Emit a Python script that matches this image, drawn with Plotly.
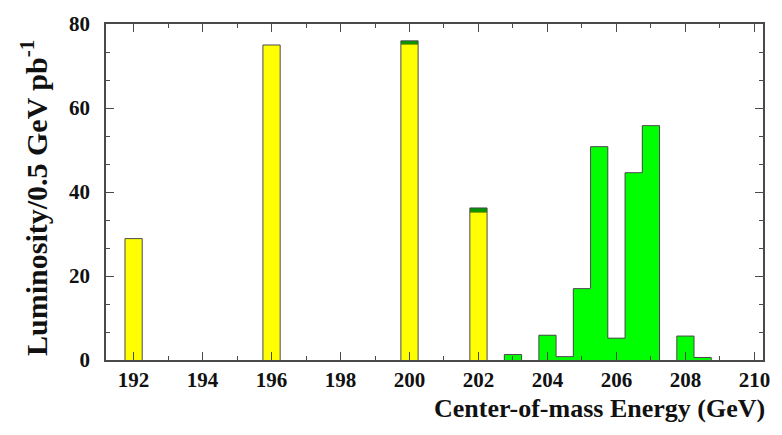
import plotly.graph_objects as go

# Data (bin centres in GeV, 0.5 GeV bins)
yellow_x = [192, 196, 200, 202]
yellow_y = [28.9, 75.0, 75.2, 35.2]

green_x = [200, 202, 203, 204, 204.5, 205, 205.5, 206, 206.5, 207, 208, 208.5]
green_y = [0.8, 1.0, 1.3, 5.9, 0.8, 17.0, 50.8, 5.2, 44.6, 55.8, 5.7, 0.6]

bin_width = 0.5
x_ticks = [192, 194, 196, 198, 200, 202, 204, 206, 208, 210]
y_ticks = [0, 20, 40, 60, 80]

YELLOW = "#ffff00"
GREEN = "#00ff00"
DARK_GREEN = "#009a00"
EDGE = "#4a4a4a"
FONT = "Liberation Serif"

# colours: green stacked on top of yellow bins drawn darker
yset = set(yellow_x)
green_colors = [DARK_GREEN if x in yset else GREEN for x in green_x]

# total heights per bin for the histogram outline
totals = {}
for x, v in zip(yellow_x, yellow_y):
    totals[x] = totals.get(x, 0) + v
for x, v in zip(green_x, green_y):
    totals[x] = totals.get(x, 0) + v

fig = go.Figure()
fig.add_trace(go.Bar(x=yellow_x, y=yellow_y, width=[bin_width] * len(yellow_x),
                     marker=dict(color=YELLOW, line=dict(width=0)), showlegend=False))
fig.add_trace(go.Bar(x=green_x, y=green_y, width=[bin_width] * len(green_x),
                     marker=dict(color=green_colors, line=dict(width=0)), showlegend=False))

# outline of each contiguous run of bins
centers = sorted(totals)
runs = []
cur = [centers[0]]
for c in centers[1:]:
    if abs(c - cur[-1] - bin_width) < 1e-9:
        cur.append(c)
    else:
        runs.append(cur)
        cur = [c]
runs.append(cur)

for run in runs:
    ox, oy = [run[0] - bin_width / 2], [0]
    for c in run:
        ox += [c - bin_width / 2, c + bin_width / 2]
        oy += [totals[c], totals[c]]
    ox.append(run[-1] + bin_width / 2)
    oy.append(0)
    fig.add_trace(go.Scatter(x=ox, y=oy, mode="lines", line=dict(color=EDGE, width=1),
                             hoverinfo="skip", showlegend=False))

# yellow/green boundaries on stacked bins
for x, v in zip(yellow_x, yellow_y):
    if x in green_x:
        fig.add_trace(go.Scatter(x=[x - bin_width / 2, x + bin_width / 2], y=[v, v], mode="lines",
                                 line=dict(color="#557a00", width=1), hoverinfo="skip",
                                 showlegend=False))

fig.update_layout(
    width=782, height=435,
    margin=dict(l=106, r=16, t=19, b=75),
    paper_bgcolor="white", plot_bgcolor="white",
    barmode="stack", bargap=0,
    font=dict(family=FONT, color="black"),
    xaxis=dict(range=[191.2, 210.25], tickvals=x_ticks, ticktext=["<b>%d</b>" % t for t in x_ticks],
               ticks="inside", ticklen=8, tickcolor=EDGE, tickwidth=1,
               showline=True, linecolor=EDGE, linewidth=1.5, mirror="allticks",
               showgrid=False, zeroline=False,
               tickfont=dict(family=FONT, size=21, color="#111"),
               minor=dict(dtick=1, tick0=192, ticks="inside", ticklen=4, tickcolor=EDGE, showgrid=False)),
    yaxis=dict(range=[0, 80], tickvals=y_ticks, ticktext=["<b>%d</b>" % t for t in y_ticks],
               ticks="inside", ticklen=8, tickcolor=EDGE, tickwidth=1,
               showline=True, linecolor=EDGE, linewidth=1.5, mirror="allticks",
               showgrid=False, zeroline=False, ticklabelstandoff=10,
               tickfont=dict(family=FONT, size=21, color="#111"),
               minor=dict(dtick=20 / 3, tick0=0, ticks="inside", ticklen=4, tickcolor=EDGE, showgrid=False)),
)

fig.add_annotation(text="<b>Center-of-mass Energy (GeV)</b>", xref="paper", yref="paper",
                   x=1.0, y=0, xanchor="right", yanchor="middle", yshift=-48, xshift=4,
                   showarrow=False, font=dict(family=FONT, size=26, color="#111"))
fig.add_annotation(text="<b>Luminosity/0.5 GeV pb<sup>-1</sup></b>", xref="paper", yref="paper",
                   x=0, y=0.5, xanchor="center", yanchor="middle", xshift=-72, yshift=-6,
                   textangle=-90, showarrow=False, font=dict(family=FONT, size=30, color="#111"))

fig.write_html("out.html")
